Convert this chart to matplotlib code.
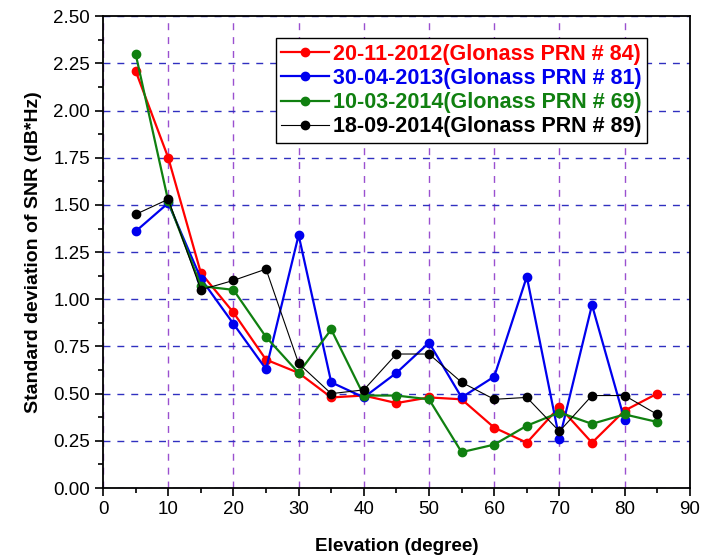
import numpy as np
import matplotlib.pyplot as plt

plt.rcParams['font.family'] = ['Liberation Sans', 'DejaVu Sans']

# ── data ──────────────────────────────────────────────────────────────────────
elev = [5, 10, 15, 20, 25, 30, 35, 40, 45, 50, 55, 60, 65, 70, 75, 80, 85]

snr_2012 = [2.21, 1.75, 1.14, 0.93, 0.68, 0.61, 0.48, 0.49, 0.45, 0.48, 0.47,
            0.32, 0.24, 0.43, 0.24, 0.41, 0.50]
snr_2013 = [1.36, 1.51, 1.11, 0.87, 0.63, 1.34, 0.56, 0.48, 0.61, 0.77, 0.48,
            0.59, 1.12, 0.26, 0.97, 0.36]
snr_2014a = [2.30, 1.52, 1.07, 1.05, 0.80, 0.61, 0.84, 0.49, 0.49, 0.47, 0.19,
             0.23, 0.33, 0.40, 0.34, 0.39, 0.35]
snr_2014b = [1.45, 1.53, 1.05, 1.10, 1.16, 0.66, 0.50, 0.52, 0.71, 0.71, 0.56,
             0.47, 0.48, 0.30, 0.49, 0.49, 0.39]

labels = ["20-11-2012(Glonass PRN # 84)",
          "30-04-2013(Glonass PRN # 81)",
          "10-03-2014(Glonass PRN # 69)",
          "18-09-2014(Glonass PRN # 89)"]
colors = ["#ff0000", "#0000ee", "#108010", "#000000"]

# ── plot ──────────────────────────────────────────────────────────────────────
fig = plt.figure(figsize=(7.01, 5.59), dpi=100)
ax = fig.add_axes([0.147, 0.127, 0.837, 0.844])

series = [snr_2012, snr_2013, snr_2014a, snr_2014b]
widths = [1.6, 1.6, 1.6, 0.8]
for ys, lab, c, lw in zip(series, labels, colors, widths):
    ax.plot(elev[:len(ys)], ys, color=c, lw=lw, marker='o', ms=6,
            label=lab, zorder=3)

ax.set_xlim(0, 90)
ax.set_ylim(0, 2.5)
ax.set_xticks(np.arange(0, 91, 10))
ax.set_xticks(np.arange(0, 91, 5), minor=True)
ax.set_yticks(np.arange(0, 2.51, 0.25))
ax.set_yticks(np.arange(0, 2.51, 0.125), minor=True)
ax.set_yticklabels([f"{v:.2f}" for v in np.arange(0, 2.51, 0.25)])

ax.tick_params(which='major', direction='out', length=6, width=1.2,
               labelsize=13.5, colors='black')
ax.tick_params(which='minor', direction='out', length=3.5, width=1.2)
for s in ax.spines.values():
    s.set_linewidth(1.3)

ax.xaxis.grid(True, which='major', ls=(0, (5, 5)), color='#9a50d0', lw=1)
ax.yaxis.grid(True, which='major', ls=(0, (5, 5)), color='#3030c0', lw=1)
ax.set_axisbelow(True)

ax.set_xlabel("Elevation (degree)", fontsize=13.6, fontweight='bold',
              labelpad=14)
ax.set_ylabel("Standard deviation of SNR (dB*Hz)", fontsize=14,
              fontweight='bold', labelpad=8)

leg = ax.legend(loc='upper right', bbox_to_anchor=(0.927, 0.953),
                prop={'weight': 'bold', 'size': 15.5}, fancybox=False,
                framealpha=1, edgecolor='black', borderpad=0.25,
                labelspacing=0.15, handlelength=2.2, handletextpad=0.2,
                borderaxespad=0)
leg.get_frame().set_linewidth(1.0)
for txt, c in zip(leg.get_texts(), colors):
    txt.set_color(c)

plt.savefig("out.png", dpi=100)
